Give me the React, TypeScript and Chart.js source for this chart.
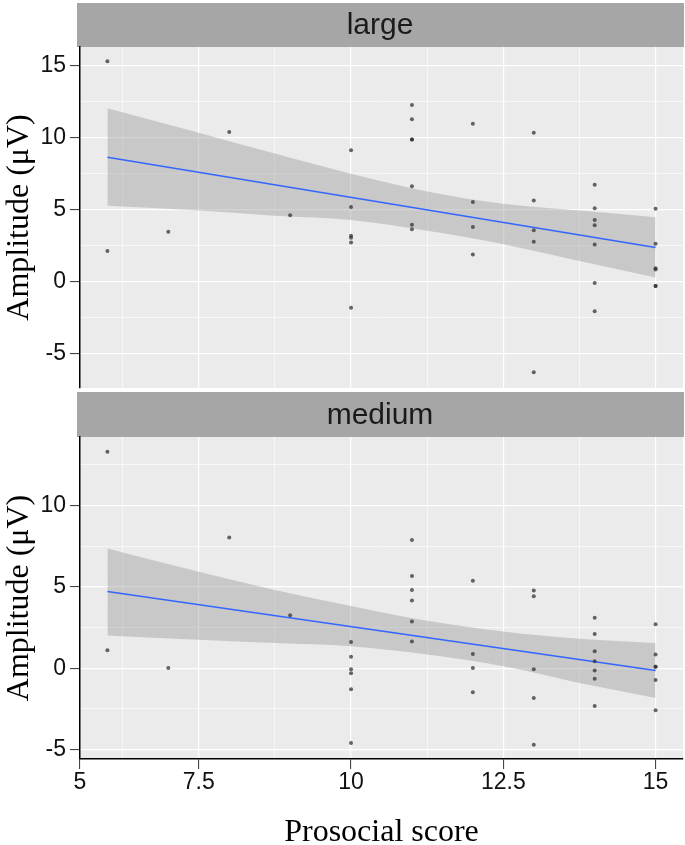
import React, { useEffect, useRef } from "react";
import { Chart, registerables } from "chart.js";

Chart.register(...registerables);

// ---------- text ----------
const panelLabels = ["large", "medium"];
const xAxisTitle = "Prosocial score";
const yAxisTitle = "Amplitude (\u03bcV)";

// ---------- x axis ----------
const xMin = 5.55;
const xMax = 15.45;
const xStartLabel = "5";
const xMajorTicks = [7.5, 10, 12.5, 15];
const xMinorTicks = [6.25, 8.75, 11.25, 13.75];

// ---------- y axes ----------
const largeYMin = -7.38;
const largeYMax = 16.28;
const largeYTicks = [-5, -2.5, 0, 2.5, 5, 7.5, 10, 12.5, 15];
const mediumYMin = -5.57;
const mediumYMax = 14.2;
const mediumYTicks = [-5, -2.5, 0, 2.5, 5, 7.5, 10, 12.5];

// ---------- large: points ----------
const largeScore = [
  6, 6, 7, 8, 9,
  10, 10, 10, 10, 10, 10,
  11, 11, 11, 11, 11, 11, 11,
  12, 12, 12, 12,
  13, 13, 13, 13, 13,
  14, 14, 14, 14, 14, 14, 14,
  15, 15, 15, 15, 15, 15,
];
const largeAmp = [
  15.29, 2.12, 3.46, 10.38, 4.61,
  9.12, 5.17, 3.18, 3.04, 2.72, -1.82,
  12.26, 11.26, 9.87, 9.87, 6.61, 3.95, 3.63,
  10.96, 5.52, 3.79, 1.89,
  10.33, 5.63, 3.56, 2.77, -6.28,
  6.72, 5.1, 4.28, 3.91, 2.58, -0.1, -2.05,
  5.05, 2.63, 0.93, 0.84, -0.31, -0.31,
];

// ---------- medium: points ----------
const mediumScore = [
  6, 6, 7, 8, 9,
  10, 10, 10, 10, 10, 10,
  11, 11, 11, 11, 11, 11,
  12, 12, 12, 12,
  13, 13, 13, 13, 13,
  14, 14, 14, 14, 14, 14, 14,
  15, 15, 15, 15, 15, 15,
];
const mediumAmp = [
  13.29, 1.1, 0.02, 8.03, 3.26,
  1.61, 0.71, -0.06, -0.31, -1.28, -4.59,
  7.87, 5.67, 4.81, 4.16, 2.87, 1.65,
  5.38, 0.88, 0.02, -1.47,
  4.77, 4.42, -0.06, -1.83, -4.69,
  3.1, 2.1, 1.04, 0.43, -0.14, -0.65, -2.32,
  2.71, 0.84, 0.1, 0.1, -0.72, -2.57,
];

// ---------- fitted lines ----------
const fitX = [6, 15];
const largeFit = [8.63, 2.37];
const mediumFit = [4.71, -0.14];

// ---------- confidence ribbons ----------
const ribbonX = [6, 7.5, 8.75, 10, 11.25, 12.5, 13.75, 15];
const largeUpper = [12.03, 10.33, 8.89, 7.49, 6.26, 5.4, 4.93, 4.47];
const largeLower = [5.26, 4.93, 4.58, 4.28, 3.53, 2.6, 1.44, 0.28];
const mediumUpper = [7.36, 5.93, 4.81, 3.83, 2.92, 2.26, 1.81, 1.55];
const mediumLower = [2.02, 1.75, 1.55, 1.35, 0.84, 0.12, -0.9, -1.82];

const SANS = '"Liberation Sans", Arial, sans-serif';
const SERIF = '"Liberation Serif", "Times New Roman", serif';

type PanelProps = {
  top: number;
  height: number;
  label: string;
  xs: number[];
  ys: number[];
  fit: number[];
  upper: number[];
  lower: number[];
  yMin: number;
  yMax: number;
  yTicks: number[];
  showX: boolean;
  stripTop: number;
};

const zip = (a: number[], b: number[]) => a.map((v, i) => ({ x: v, y: b[i] }));

function Panel(p: PanelProps) {
  const ref = useRef<HTMLCanvasElement | null>(null);

  useEffect(() => {
    const canvas = ref.current;
    if (!canvas) return;
    const PANEL_TOP = 47;
    const xAxisHeight = p.showX ? 86 : 2;

    const isXMinor = (v: number) => xMinorTicks.includes(v);
    const isXStart = (v: number) => Math.abs(v - xMin) < 1e-6;
    const isYMinor = (v: number) => Math.abs(v % 5) > 1e-6;

    const stripPlugin = {
      id: "facetStrip",
      beforeDraw(chart: any) {
        const { ctx, chartArea } = chart;
        ctx.save();
        ctx.fillStyle = "#EBEBEB";
        ctx.fillRect(
          chartArea.left,
          chartArea.top,
          chartArea.right - chartArea.left,
          chartArea.bottom - chartArea.top
        );
        ctx.fillStyle = "#A6A6A6";
        ctx.fillRect(77, p.stripTop, 607, PANEL_TOP - p.stripTop);
        ctx.fillStyle = "#1a1a1a";
        ctx.font = `30px ${SANS}`;
        ctx.textAlign = "center";
        ctx.textBaseline = "middle";
        ctx.fillText(p.label, 380, (p.stripTop + PANEL_TOP) / 2 + 1);
        ctx.restore();
      },
    };

    const chart = new Chart(canvas, {
      type: "scatter",
      data: {
        datasets: [
          {
            type: "scatter",
            data: zip(p.xs, p.ys),
            pointRadius: 2,
            pointHoverRadius: 2,
            pointBorderWidth: 0,
            pointBackgroundColor: "rgba(45,45,45,0.72)",
            order: 0,
          } as any,
          {
            type: "line",
            data: zip(fitX, p.fit),
            borderColor: "#3366FF",
            borderWidth: 1.6,
            pointRadius: 0,
            fill: false,
            order: 1,
          },
          {
            type: "line",
            data: zip(ribbonX, p.upper),
            borderWidth: 0,
            borderColor: "rgba(0,0,0,0)",
            pointRadius: 0,
            cubicInterpolationMode: "monotone",
            fill: "+1",
            backgroundColor: "rgba(153,153,153,0.42)",
            order: 2,
          },
          {
            type: "line",
            data: zip(ribbonX, p.lower),
            borderWidth: 0,
            borderColor: "rgba(0,0,0,0)",
            pointRadius: 0,
            cubicInterpolationMode: "monotone",
            fill: false,
            order: 3,
          },
        ],
      },
      options: {
        responsive: false,
        animation: false,
        devicePixelRatio: 1,
        events: [],
        layout: { padding: { top: PANEL_TOP, right: 2, bottom: 0, left: 0 } },
        plugins: {
          legend: { display: false },
          tooltip: { enabled: false },
        },
        scales: {
          x: {
            type: "linear",
            min: xMin,
            max: xMax,
            afterBuildTicks: (s: any) => {
              const vals = p.showX
                ? [xMin, ...xMinorTicks, ...xMajorTicks].sort((a, b) => a - b)
                : [...xMinorTicks, ...xMajorTicks].sort((a, b) => a - b);
              s.ticks = vals.map((v) => ({ value: v }));
            },
            afterFit: (s: any) => {
              s.height = xAxisHeight;
              s.paddingLeft = 0;
              s.paddingRight = 0;
              s.paddingTop = 0;
              s.paddingBottom = 0;
            },
            ticks: {
              display: p.showX,
              autoSkip: false,
              maxRotation: 0,
              padding: 0,
              color: "#111",
              font: { family: SANS, size: 23 },
              callback: (v: any) => {
                const n = Number(v);
                if (isXStart(n)) return xStartLabel;
                if (isXMinor(n)) return "";
                return String(n);
              },
            },
            grid: {
              drawTicks: p.showX,
              tickLength: 10,
              tickWidth: 1,
              tickColor: (c: any) =>
                c.tick && isXMinor(c.tick.value) ? "rgba(0,0,0,0)" : "#333",
              color: (c: any) =>
                c.tick && isXStart(c.tick.value) ? "rgba(0,0,0,0)" : "#FFFFFF",
              lineWidth: (c: any) =>
                c.tick && isXMinor(c.tick.value) ? 0.6 : 1.2,
            },
            border: { display: p.showX, color: "#000", width: 1.5 },
            title: {
              display: p.showX,
              text: xAxisTitle,
              color: "#000",
              font: { family: SERIF, size: 32, lineHeight: 0.8 },
              padding: 0,
            },
          },
          y: {
            type: "linear",
            min: p.yMin,
            max: p.yMax,
            afterBuildTicks: (s: any) => {
              s.ticks = p.yTicks.map((v) => ({ value: v }));
            },
            afterFit: (s: any) => {
              s.width = 80;
              s.paddingLeft = 0;
              s.paddingRight = 0;
              s.paddingTop = 0;
              s.paddingBottom = 0;
            },
            ticks: {
              autoSkip: false,
              padding: 4,
              color: "#111",
              font: { family: SANS, size: 23 },
              callback: (v: any) => {
                const n = Number(v);
                return isYMinor(n) ? "" : String(n);
              },
            },
            grid: {
              drawTicks: true,
              tickLength: 10,
              tickWidth: 1,
              tickColor: (c: any) =>
                c.tick && isYMinor(c.tick.value) ? "rgba(0,0,0,0)" : "#333",
              color: "#FFFFFF",
              lineWidth: (c: any) =>
                c.tick && isYMinor(c.tick.value) ? 0.6 : 1.2,
            },
            border: { display: true, color: "#000", width: 1.5 },
            title: {
              display: true,
              text: yAxisTitle,
              color: "#000",
              font: { family: SERIF, size: 32, lineHeight: 1 },
              padding: { top: 4, bottom: 0 },
            },
          },
        },
      } as any,
      plugins: [stripPlugin],
    });

    return () => chart.destroy();
  }, []);

  return (
    <canvas
      ref={ref}
      width={685}
      height={p.height}
      style={{ position: "absolute", left: 0, top: p.top, width: 685, height: p.height }}
    />
  );
}

export default function App() {
  return (
    <div
      style={{
        position: "absolute",
        left: 0,
        top: 0,
        width: 685,
        height: 845,
        background: "#fff",
        overflow: "hidden",
      }}
    >
      <Panel
        top={0}
        height={390}
        label={panelLabels[0]}
        xs={largeScore}
        ys={largeAmp}
        fit={largeFit}
        upper={largeUpper}
        lower={largeLower}
        yMin={largeYMin}
        yMax={largeYMax}
        yTicks={largeYTicks}
        showX={false}
        stripTop={3}
      />
      <Panel
        top={390}
        height={455}
        label={panelLabels[1]}
        xs={mediumScore}
        ys={mediumAmp}
        fit={mediumFit}
        upper={mediumUpper}
        lower={mediumLower}
        yMin={mediumYMin}
        yMax={mediumYMax}
        yTicks={mediumYTicks}
        showX={true}
        stripTop={2}
      />
    </div>
  );
}
